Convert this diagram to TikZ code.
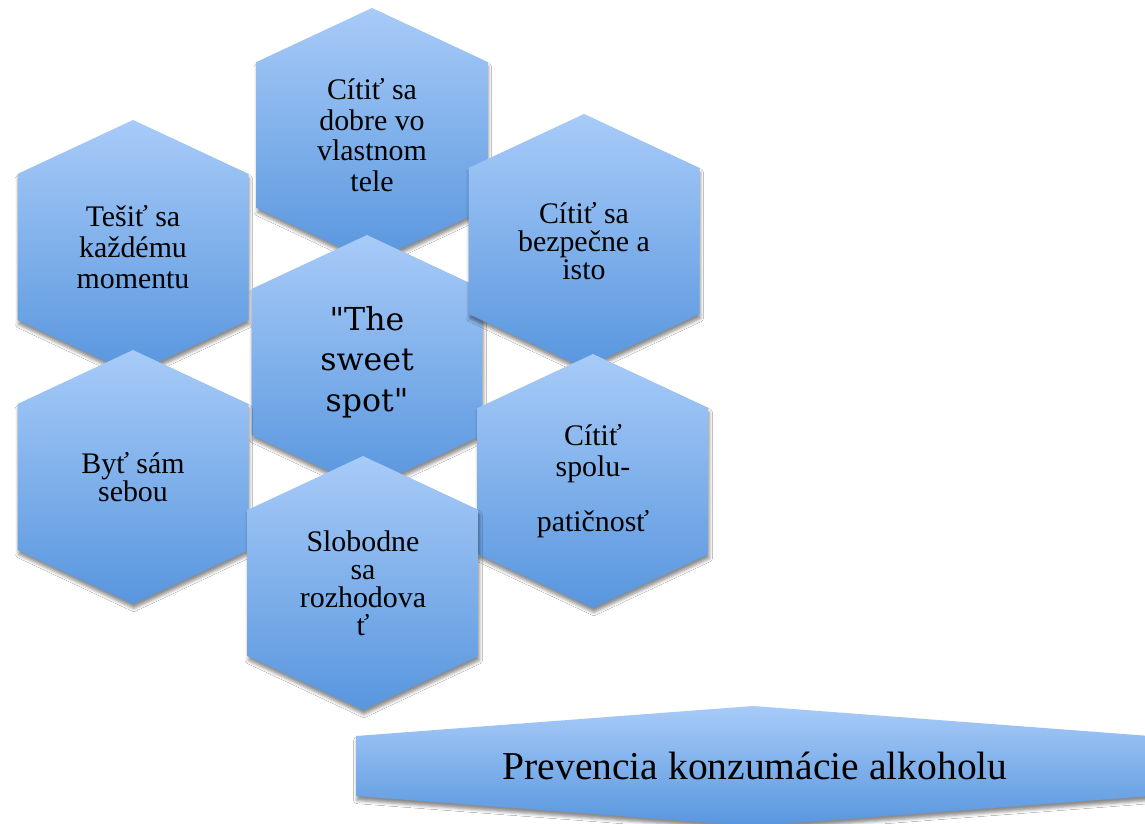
\documentclass[tikz,border=0pt]{standalone}
\usepackage{fontspec}
\setmainfont{Liberation Serif}
\newfontfamily\sweetfont[Ligatures=TeXOff]{DejaVu Serif}
\usetikzlibrary{shadows.blur}
\definecolor{hextop}{RGB}{168,203,248}
\definecolor{hexbot}{RGB}{88,150,222}

\begin{document}
\begin{tikzpicture}[x=0.02cm,y=-0.02cm]
% Styles
\tikzset{hexcell/.style={top color=hextop,bottom color=hexbot,
    blur shadow={shadow xshift=0.5pt,shadow yshift=-2.5pt,shadow opacity=45}},
  hextext/.style={align=center,text=black,font=\fontsize{17}{16}\selectfont},
  hexloose/.style={align=center,text=black,font=\fontsize{17}{17.5}\selectfont},
  sweettext/.style={align=center,text=black,font=\sweetfont\fontsize{18}{23}\selectfont}}
\clip (0,0) rectangle (1145,824);
\fill[white] (0,0) rectangle (1145,824);

% the hexagons -- drawn back to front
\foreach \nm/\cx/\cy/\sty/\txt in {
  dobre/372/135/hexloose/{Cítiť sa\\dobre vo\\vlastnom\\tele},
  tesit/133/247/hexloose/{Tešiť sa\\každému\\momentu},
  sweet/367/362/sweettext/{"The\\sweet\\spot"},
  bezpec/584/241/hextext/{Cítiť sa\\bezpečne a\\isto},
  byt/133/477/hextext/{Byť sám\\sebou},
  spolu/593/481/hexloose/{Cítiť\\spolu-\\[14pt]patičnosť},
  sloboda/363/583/hextext/{Slobodne\\sa\\rozhodova\\ť}} {
\shade[hexcell,shift={(\cx,\cy)}] (0,-127) -- (115.5,-73) -- (115.5,73)
  -- (0,127) -- (-115.5,73) -- (-115.5,-73) -- cycle;
\node[\sty] (\nm) at (\cx,\cy) {\txt};
}

% the banner at the bottom
\shade[hexcell] (356,736) -- (753,706) -- (1150,736) -- (1150,796)
  -- (753,826) -- (356,796) -- cycle;
\node[font=\fontsize{22.5}{26}\selectfont] (prev) at (755,766) {Prevencia konzumácie alkoholu};
\end{tikzpicture}
\end{document}
